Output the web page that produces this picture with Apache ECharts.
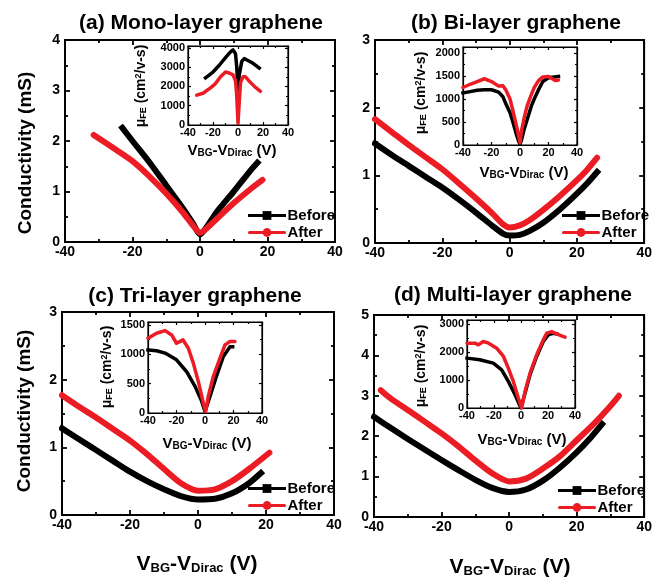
<!DOCTYPE html>
<html>
<head>
<meta charset="utf-8">
<script src="https://cdn.jsdelivr.net/npm/echarts@6/dist/echarts.min.js"></script>
<style>
html,body{margin:0;padding:0;background:#fff;}
#c{width:655px;height:582px;}
</style>
</head>
<body>
<div id="c"></div>
<script>
// ---------- DATA ----------
const panelTitles = ['(a) Mono-layer graphene', '(b) Bi-layer graphene', '(c) Tri-layer graphene', '(d) Multi-layer graphene'];
const seriesNames = ['Before', 'After'];
const mainYMax = [4, 3, 3, 5];
const insetYMax = [4100, 2130, 1550, 3140];
const insetYInterval = [1000, 500, 500, 1000];

// main conductivity curves [V, mS]
const monoBefore = [[-23,2.26],[-20,2.0],[-15,1.58],[-10,1.12],[-5,0.66],[-2,0.36],[0,0.15],[2,0.3],[5,0.6],[10,1.0],[15,1.42],[17,1.57]];
const monoAfter = [[-31.5,2.12],[-25,1.83],[-20,1.6],[-15,1.3],[-10,0.96],[-5,0.58],[-2,0.32],[0,0.18],[2,0.27],[5,0.46],[10,0.77],[15,1.05],[18.5,1.23]];
const biBefore = [[-40,1.47],[-35,1.3],[-30,1.14],[-25,0.98],[-20,0.82],[-15,0.64],[-10,0.45],[-5,0.25],[-2,0.14],[0,0.11],[3,0.12],[6,0.18],[10,0.3],[15,0.5],[20,0.73],[23,0.88],[26,1.05]];
const biAfter = [[-40,1.83],[-35,1.64],[-30,1.45],[-25,1.27],[-20,1.09],[-15,0.88],[-10,0.66],[-5,0.43],[-2,0.28],[0,0.23],[3,0.26],[6,0.34],[10,0.49],[15,0.7],[20,0.93],[23,1.08],[26,1.26]];
const triBefore = [[-40,1.28],[-35,1.12],[-30,0.96],[-25,0.8],[-20,0.64],[-15,0.5],[-10,0.38],[-5,0.28],[0,0.23],[5,0.24],[10,0.32],[15,0.47],[18.5,0.62]];
const triAfter = [[-40,1.77],[-35,1.6],[-30,1.44],[-25,1.27],[-20,1.1],[-15,0.9],[-10,0.68],[-5,0.47],[0,0.36],[5,0.38],[10,0.5],[15,0.68],[21,0.92]];
const multiBefore = [[-40,2.48],[-35,2.2],[-30,1.93],[-25,1.67],[-20,1.41],[-15,1.16],[-10,0.92],[-5,0.72],[0,0.62],[5,0.68],[10,0.9],[15,1.22],[20,1.6],[24,1.95],[27.5,2.3]];
const multiAfter = [[-38,3.14],[-35,2.93],[-30,2.65],[-25,2.36],[-20,2.07],[-15,1.75],[-10,1.4],[-5,1.08],[0,0.88],[5,0.95],[10,1.2],[15,1.5],[20,1.9],[25,2.3],[30,2.75],[32.5,3.0]];

// inset mobility curves [V, cm2/V-s]
const monoMuBefore = [[-26,2450],[-20,2750],[-15,3100],[-10,3500],[-6,3800],[-4,3900],[-2,3700],[-1,3000],[0,1800],[1,2600],[3,3300],[5,3450],[8,3350],[12,3200],[15,3050],[17,2950]];
const monoMuAfter = [[-33,1550],[-28,1650],[-22,1930],[-18,2150],[-14,2500],[-10,2750],[-7,2700],[-4,2600],[-2,2300],[-1,1500],[0,100],[1,1200],[2,2200],[4,2500],[6,2500],[10,2200],[14,1950],[18,1750]];
const biMuBefore = [[-40,1130],[-35,1160],[-30,1190],[-25,1200],[-20,1200],[-15,1150],[-12,1050],[-10,900],[-7,700],[-5,500],[-3,280],[-1,80],[0,20],[1,100],[3,350],[5,550],[8,850],[10,1000],[13,1200],[16,1380],[20,1460],[24,1480],[27,1490]];
const biMuAfter = [[-40,1250],[-35,1320],[-30,1380],[-25,1440],[-20,1380],[-15,1280],[-12,1290],[-10,1200],[-7,1000],[-5,750],[-2,350],[0,50],[1,300],[3,600],[5,850],[8,1100],[10,1250],[13,1400],[16,1480],[20,1490],[22,1450],[25,1400],[27,1410]];
const triMuBefore = [[-40,1075],[-34,1060],[-28,1020],[-20,905],[-13,707],[-7,453],[-2.3,198],[0,28],[3.5,283],[8,622],[12.9,962],[17.5,1130],[19.4,1130]];
const triMuAfter = [[-40,1273],[-34,1358],[-28,1403],[-23.4,1330],[-20,1188],[-17.7,1216],[-15.4,1245],[-11.7,1103],[-8.2,849],[-4.7,537],[-1.2,170],[0.5,28],[2.3,283],[5.8,622],[10.5,934],[14,1160],[17.5,1217],[21,1217]];
const multiMuBefore = [[-40,1780],[-30.6,1720],[-20.5,1600],[-14.3,1364],[-9.4,949],[-4.4,474],[-1.2,119],[0,0],[3,534],[6.7,1186],[11.6,1840],[16.5,2372],[20.2,2610],[24,2670],[26.4,2645]];
const multiMuAfter = [[-40,2313],[-34,2313],[-31.6,2254],[-28,2372],[-24,2313],[-18,2135],[-13,1839],[-9.4,1423],[-5.7,949],[-2,356],[0.5,0],[3,593],[6.7,1245],[11.6,1898],[16.5,2432],[19,2669],[22.7,2728],[26.4,2645],[30,2574],[32.6,2527]];

const mainData = [[monoBefore, monoAfter],[biBefore, biAfter],[triBefore, triAfter],[multiBefore, multiAfter]];
const insetData = [[monoMuBefore, monoMuAfter],[biMuBefore, biMuAfter],[triMuBefore, triMuAfter],[multiMuBefore, multiMuAfter]];

// ---------- LAYOUT ----------
const FONT = '"Liberation Sans", Arial, sans-serif';
const BLACK = '#000000';
const RED = '#ec1c24';
const mainGrids = [
  {left:65, top:40, width:270, height:202},
  {left:375, top:40, width:271, height:203},
  {left:62, top:312, width:272, height:203},
  {left:374, top:315, width:271, height:202}
];
const insetGrids = [
  {left:188, top:46, width:100, height:79},
  {left:463, top:47, width:114, height:98},
  {left:148, top:322, width:114, height:91},
  {left:467, top:320, width:108, height:88}
];
const legendPos = [
  {left:248, top:208},
  {left:562, top:208},
  {left:248, top:481},
  {left:558, top:483}
];
const titlePos = [[201,13],[516,13],[195,286],[513,285]];

const grid = [];
const xAxis = [];
const yAxis = [];
const series = [];

function axisPair(kind, gi, min, max, interval, opts) {
  const base = {
    type: 'value', gridIndex: gi, min: min, max: max, interval: interval,
    splitLine: {show: false},
    axisLine: {show: true, onZero: false, lineStyle: {color: BLACK, width: opts.lw}},
    axisTick: {show: true, inside: true, length: opts.tick, lineStyle: {color: BLACK, width: opts.lw}},
    minorTick: {show: true, splitNumber: 2, length: opts.minor, lineStyle: {color: BLACK, width: opts.lw}},
  };
  const primary = Object.assign({}, base, {
    position: kind === 'x' ? 'bottom' : 'left',
    axisLabel: {show: true, color: BLACK, fontWeight: 'bold', fontSize: opts.fs, fontFamily: FONT,
      margin: opts.margin, showMaxLabel: opts.showMax, formatter: v => String(v)}
  });
  const mirror = Object.assign({}, base, {
    position: kind === 'x' ? 'top' : 'right',
    axisLabel: {show: false}
  });
  return [primary, mirror];
}

function addPanel(g, ymax, yint, data, isInset, lw) {
  const gi = grid.length;
  grid.push(Object.assign({show: true, backgroundColor: '#fff', borderColor: BLACK, borderWidth: isInset ? 1.2 : 1.8, containLabel: false}, g));
  const o = isInset ? {lw:1.2, tick:3, minor:2, fs:11, margin:2, showMax: ymax % yint === 0}
                    : {lw:1.8, tick:5, minor:3, fs:14, margin:4, showMax: true};
  const xs = axisPair('x', gi, -40, 40, 20, Object.assign({}, o, {showMax: true, margin: isInset ? 2 : 3}));
  const ys = axisPair('y', gi, 0, ymax, yint, Object.assign({}, o, {margin: isInset ? 3 : 5}));
  const xi = xAxis.length, yi = yAxis.length;
  xAxis.push(xs[0], xs[1]);
  yAxis.push(ys[0], ys[1]);
  [0,1].forEach(k => {
    series.push({
      type: 'line', name: seriesNames[k], xAxisIndex: xi, yAxisIndex: yi,
      data: data[k], showSymbol: false, symbol: k === 0 ? 'rect' : 'circle',
      symbolSize: k === 0 ? 8 : 11,
      smooth: isInset ? false : 0.25,
      clip: true,
      z: isInset ? 10 : 3,
      itemStyle: {color: k === 0 ? BLACK : RED},
      lineStyle: {color: k === 0 ? BLACK : RED, width: lw, cap: k === 0 ? 'square' : 'round', join: 'round'},
      emphasis: {disabled: true},
      animation: false
    });
  });
}

for (let i = 0; i < 4; i++) {
  addPanel(mainGrids[i], mainYMax[i], 1, mainData[i], false, 6);
}
for (let i = 0; i < 4; i++) {
  addPanel(insetGrids[i], insetYMax[i], insetYInterval[i], insetData[i], true, 3.5);
}

const legend = legendPos.map(p => ({
  left: p.left, top: p.top, orient: 'vertical', itemGap: 2, padding: 0,
  itemWidth: 35, itemHeight: 11,
  data: seriesNames.slice(),
  selectedMode: false,
  textStyle: {color: BLACK, fontWeight: 'bold', fontSize: 15, fontFamily: FONT, padding: [0,0,0,-2]},
  lineStyle: {width: 3}
}));

const title = panelTitles.map((t, i) => ({
  text: t, left: titlePos[i][0], top: titlePos[i][1], textAlign: 'center', padding: 0,
  textStyle: {color: BLACK, fontWeight: 'bold', fontSize: 21, fontFamily: FONT}
}));

// rich text styles for axis titles
function xRich(big, small) {
  return {
    v: {fontSize: big, fontWeight: 'bold', fontFamily: FONT, fill: BLACK, color: BLACK, lineHeight: big, verticalAlign: 'top'},
    s: {fontSize: small, fontWeight: 'bold', fontFamily: FONT, fill: BLACK, color: BLACK, lineHeight: small, verticalAlign: 'bottom', padding: [Math.round(big*0.6),0,0,0]}
  };
}
const xTitleText = '{v|V}{s|BG}{v|-V}{s|Dirac}{v| (V)}';
const muTitleText = '{v|\u03bc}{s|FE}{v| (cm}{p|2}{v|/v-s)}';
function muRich(big, small) {
  return {
    v: {fontSize: big, fontWeight: 'bold', fontFamily: FONT, fill: BLACK, color: BLACK, lineHeight: big, verticalAlign: 'middle'},
    s: {fontSize: small, fontWeight: 'bold', fontFamily: FONT, fill: BLACK, color: BLACK, lineHeight: small, verticalAlign: 'bottom', padding: [Math.round(big*0.9),0,0,0]},
    p: {fontSize: small, fontWeight: 'bold', fontFamily: FONT, fill: BLACK, color: BLACK, lineHeight: small, verticalAlign: 'top'}
  };
}

const graphic = [];
function addText(x, y, text, rich, rot, font) {
  const st = {text: text, align: 'center', verticalAlign: 'middle', textAlign: 'center', textVerticalAlign: 'middle', fill: BLACK};
  if (rich) st.rich = rich;
  if (font) st.font = font;
  graphic.push({type: 'text', x: x, y: y, rotation: rot || 0, z: 100, silent: true, style: st});
}
// main y titles
addText(26, 153, 'Conductivity (mS)', null, Math.PI/2, 'bold 19px ' + FONT);
addText(25, 411, 'Conductivity (mS)', null, Math.PI/2, 'bold 19px ' + FONT);
// main x titles
addText(197, 564, xTitleText, xRich(21, 13), 0);
addText(510, 567, xTitleText, xRich(21, 13), 0);
// inset x titles
const insetXT = [[232,151],[524,173],[207,444],[522,440]];
insetXT.forEach(p => addText(p[0], p[1], xTitleText, xRich(15, 10), 0));
// inset y titles
const insetYT = [[141,86],[421,93],[107,367],[421,366]];
insetYT.forEach(p => addText(p[0], p[1], muTitleText, muRich(14, 9), Math.PI/2));

const chart = echarts.init(document.getElementById('c'), null, {renderer: 'canvas'});
chart.setOption({
  animation: false,
  backgroundColor: '#fff',
  title: title,
  legend: legend,
  grid: grid,
  xAxis: xAxis,
  yAxis: yAxis,
  series: series,
  graphic: graphic
});
</script>
</body>
</html>
